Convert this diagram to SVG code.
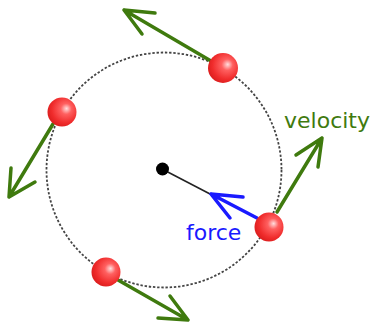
<svg xmlns="http://www.w3.org/2000/svg" width="370" height="326" viewBox="0 0 370 326">
<defs>
<radialGradient id="ball" cx="0.6" cy="0.42" r="0.62" fx="0.66" fy="0.38">
<stop offset="0" stop-color="#ffdede"/>
<stop offset="0.3" stop-color="#ff6060"/>
<stop offset="0.75" stop-color="#f02c2c"/>
<stop offset="1" stop-color="#dc1e1e"/>
</radialGradient>
<style>
.orbit{fill:none;stroke:#444;stroke-width:1.8;stroke-dasharray:2.4 1.8}
.vel{fill:none;stroke:#3f7a0e;stroke-width:3.5;stroke-linecap:round;stroke-linejoin:round}
.frc{fill:none;stroke:#1a1aff;stroke-width:3.5;stroke-linecap:round;stroke-linejoin:round}
.ball{fill:url(#ball)}
.lbl{font-family:"DejaVu Sans",Verdana,sans-serif;font-size:22px}
</style>
</defs>
<rect width="370" height="326" fill="#fff"/>
<circle class="orbit" cx="164" cy="170" r="117.5"/>
<g id="connectors">
<line x1="162" y1="169" x2="212" y2="195" stroke="#222" stroke-width="1.6"/>
<path class="vel" d="M211 61 L124 10 M155 13 L124 10 L142 34"/>
<path class="vel" d="M53 124 L9 197 M11 168 L9 197 L35 182"/>
<path class="vel" d="M277 212 L322 138 M296 155 L322 138 L318 167"/>
<path class="vel" d="M118 280 L188 320 M170 296 L188 320 L158 318"/>
<path class="frc" d="M257 218 L211 194 M243 197 L211 194 L230 218"/>
</g>
<g id="center"><circle cx="162.5" cy="169" r="6.5" fill="#000"/></g>
<g id="ball-top"><circle class="ball" cx="223" cy="68" r="15"/></g>
<g id="ball-left"><circle class="ball" cx="62" cy="112" r="14.5"/></g>
<g id="ball-right"><circle class="ball" cx="269" cy="227" r="14.5"/></g>
<g id="ball-bottom"><circle class="ball" cx="106" cy="272" r="14.5"/></g>
<g id="label-velocity"><text class="lbl" x="284" y="128" fill="#3f7a0e">velocity</text></g>
<g id="label-force"><text class="lbl" x="186" y="240" fill="#1a1aff">force</text></g>
</svg>
